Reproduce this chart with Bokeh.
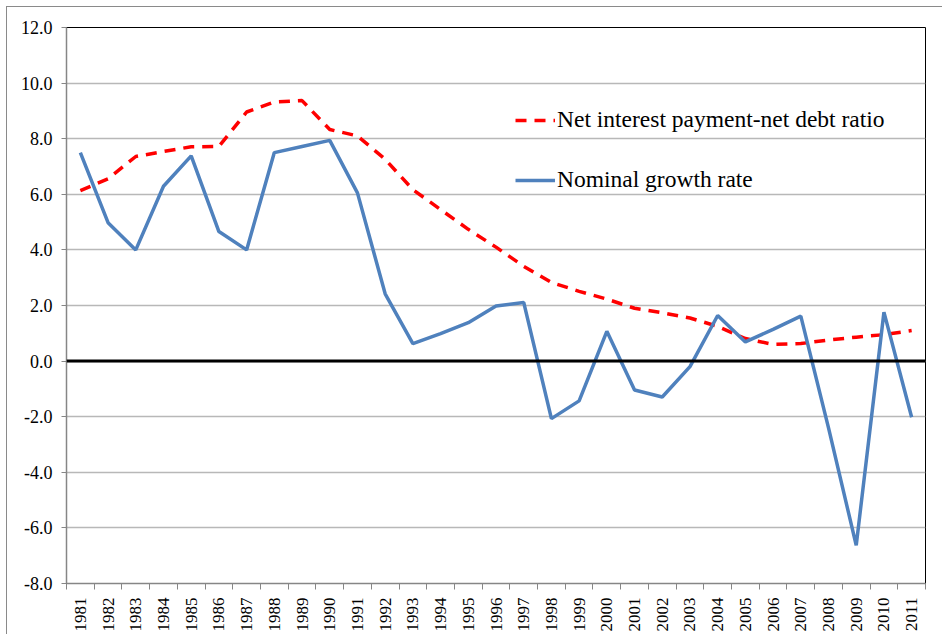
from bokeh.plotting import figure
from bokeh.models import (FixedTicker, Span, Legend, LegendItem, PrintfTickFormatter, Range1d)
from bokeh.embed import file_html
from bokeh.resources import INLINE
import math

years = list(range(1981, 2012))
year_labels = [str(y) for y in years]

interest_ratio = [6.13, 6.56, 7.36, 7.54, 7.71, 7.72, 8.96, 9.32, 9.37, 8.33,
                  8.10, 7.26, 6.17, 5.45, 4.74, 4.10, 3.41, 2.83, 2.51, 2.23,
                  1.90, 1.74, 1.55, 1.25, 0.81, 0.60, 0.63, 0.76, 0.86, 0.95, 1.10]

nominal_growth = [7.50, 4.98, 4.00, 6.29, 7.38, 4.66, 4.00, 7.50, 7.72, 7.94,
                  6.05, 2.42, 0.63, 0.99, 1.38, 1.98, 2.11, -2.07, -1.43, 1.07,
                  -1.04, -1.29, -0.20, 1.64, 0.69, 1.14, 1.62, -2.40, -6.63, 1.76, -2.02]

y_ticks = [-8, -6, -4, -2, 0, 2, 4, 6, 8, 10, 12]

FONT = "'Liberation Serif', 'Times New Roman', serif"

p = figure(width=942, height=634, output_backend="svg", toolbar_location=None,
           x_range=Range1d(years[0] - 0.5, years[-1] + 0.5),
           y_range=Range1d(y_ticks[0], y_ticks[-1]),
           min_border_left=66, min_border_top=27, min_border_right=17, min_border_bottom=48)

p.border_fill_color = None
p.styles = {"box-shadow": "inset 6px 6px 0 0 white, inset 7px 7px 0 0 #8a8a8a",
            "background-color": "white"}

p.outline_line_color = "black"
p.outline_line_width = 1

# x axis
p.xaxis.ticker = FixedTicker(ticks=years, minor_ticks=[y - 0.5 for y in years] + [years[-1] + 0.5])
p.xaxis.major_label_overrides = {y: s for y, s in zip(years, year_labels)}
p.xaxis.major_label_orientation = math.pi / 2
p.xaxis.major_tick_out = 0
p.xaxis.major_tick_in = 0
p.xaxis.minor_tick_out = 6
p.xaxis.minor_tick_in = 0
p.xaxis.minor_tick_line_color = "#868686"
p.xaxis.axis_line_color = "#868686"
p.xaxis.axis_line_width = 1.5
p.xaxis.major_label_text_font = FONT
p.xaxis.major_label_text_font_size = "17px"
p.xaxis.major_label_text_color = "black"
p.xaxis.major_label_standoff = 8
p.xgrid.grid_line_color = None

# y axis
p.yaxis.ticker = FixedTicker(ticks=y_ticks)
p.yaxis.formatter = PrintfTickFormatter(format="%.1f")
p.yaxis.major_tick_out = 5
p.yaxis.major_tick_in = 0
p.yaxis.minor_tick_line_color = None
p.yaxis.major_tick_line_color = "#868686"
p.yaxis.axis_line_color = "#868686"
p.yaxis.axis_line_width = 1.5
p.yaxis.major_label_text_font = FONT
p.yaxis.major_label_text_font_size = "18px"
p.yaxis.major_label_text_color = "black"
p.yaxis.major_label_standoff = 9
p.ygrid.grid_line_color = "#b8b8b8"
p.ygrid.grid_line_width = 1.5

zero = Span(location=0, dimension="width", line_color="black", line_width=3)
p.add_layout(zero)

r_int = p.line(years, interest_ratio, line_color="#ff0000", line_width=3.5, line_dash="11 8")
r_nom = p.line(years, nominal_growth, line_color="#4f81bd", line_width=3.5)

legend = Legend(items=[LegendItem(label="Net interest payment-net debt ratio", renderers=[r_int]),
                       LegendItem(label="Nominal growth rate", renderers=[r_nom])],
                location=(449, 390), glyph_width=40, glyph_height=20, label_height=20,
                spacing=33, padding=0, margin=0, label_standoff=2,
                label_text_font=FONT, label_text_font_size="23.5px", label_text_color="black",
                background_fill_alpha=0, border_line_alpha=0)
p.add_layout(legend, "center")

open("out.html", "w").write(file_html(p, INLINE))
